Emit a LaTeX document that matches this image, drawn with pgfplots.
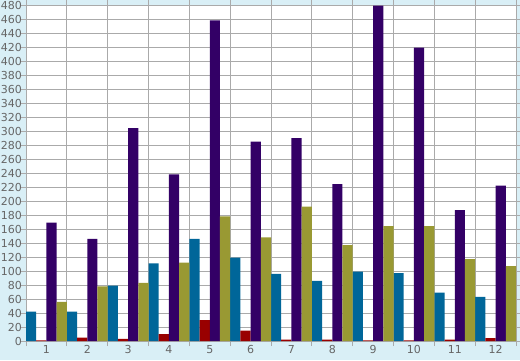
\documentclass[border=0pt]{standalone}
\usepackage{fontspec}
\setmainfont{DejaVu Sans}
\usepackage{pgfplots}
\pgfplotsset{compat=1.18}
\definecolor{bgblue}{HTML}{D9EFF6}
\definecolor{cpurple}{HTML}{330066}
\definecolor{cblue}{HTML}{006699}
\definecolor{colive}{HTML}{999933}
\definecolor{cred}{HTML}{990000}
\definecolor{gridgray}{HTML}{AAAAAA}
\definecolor{labgray}{HTML}{666666}
\begin{document}
\begin{tikzpicture}
\fill[bgblue] (0,0) rectangle (520pt,360pt);
\useasboundingbox (0,0) rectangle (520pt,360pt);
\begin{axis}[
  at={(26pt,19pt)}, anchor=south west,
  scale only axis, width=490pt, height=336pt,
  xmin=0.5, xmax=12.5, ymin=0, ymax=480,
  axis background/.style={fill=white},
  axis line style={gridgray, line width=0.8pt},
  ybar, bar width=0.25,
  xtick={0.5,1.5,...,12.5},
  xticklabels={},
  extra x ticks={1,...,12},
  extra x tick labels={1,2,3,4,5,6,7,8,9,10,11,12},
  extra x tick style={grid=none, major tick length=0pt},
  xmajorgrids=true,
  ytick={0,20,...,480},
  ymajorgrids=true,
  grid style={gridgray, line width=0.8pt},
  major tick length=5pt,
  tick align=outside,
  every tick/.style={gridgray, line width=0.8pt},
  ticklabel style={font=\fontsize{11}{13}\selectfont, text=labgray},
  /pgf/number format/assume math mode=true,
  yticklabel style={xshift=4.5pt},
  xticklabel style={yshift=-1pt},
  clip=true,
]
\addplot[fill=cblue, draw=none, bar shift=-0.375] coordinates {
(1,42) (2,42) (3,79) (4,111) (5,146) (6,119) (7,96) (8,86) (9,99) (10,97) (11,69) (12,63)};
\addplot[fill=cred, draw=none, bar shift=-0.125] coordinates {
(1,1) (2,5) (3,3) (4,10) (5,30) (6,15) (7,2) (8,2) (9,1) (10,1) (11,2) (12,4)};
\addplot[fill=cpurple, draw=none, bar shift=0.125] coordinates {
(1,169) (2,146) (3,304) (4,238) (5,458) (6,285) (7,290) (8,224) (9,479) (10,419) (11,187) (12,222)};
\addplot[fill=colive, draw=none, bar shift=0.375] coordinates {
(1,56) (2,78) (3,83) (4,112) (5,178) (6,148) (7,192) (8,137) (9,164) (10,164) (11,117) (12,107)};
\end{axis}
\end{tikzpicture}
\end{document}
